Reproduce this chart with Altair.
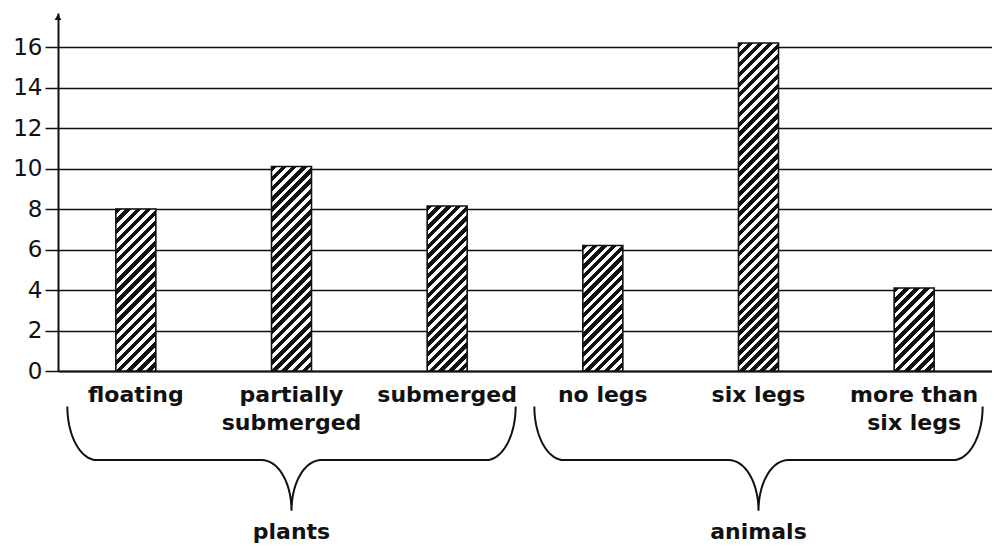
import math
import altair as alt
import pandas as pd

# ---------------- data ----------------
categories = ["floating", "partially\nsubmerged", "submerged",
              "no legs", "six legs", "more than\nsix legs"]
counts = [8.0, 10.1, 8.15, 6.2, 16.2, 4.1]
groups = ["plants", "animals"]
group_first = [0, 3]   # index of first category of each group
group_last = [2, 5]    # index of last category of each group
y_ticks = [0, 2, 4, 6, 8, 10, 12, 14, 16]

# ---------------- layout / style constants ----------------
W, H = 934, 358
Y_MAX = 17.68
BAR_W = 40
PX_PER_UNIT = H / Y_MAX
FONT = "DejaVu Sans"
INK = "#111111"
STRIPE_PERIOD = 10.0

# brace geometry (in x band units / y value units)
BRACE_INSET = 0.06
BRACE_TOP = -1.75
BRACE_MID = -4.4
BRACE_BOT = -6.9
BRACE_RX = 0.19
LABEL_Y = -7.95

df = pd.DataFrame({"idx": list(range(len(categories))),
                   "category": categories, "count": counts})


def hatch(value):
    """Diagonal '/' stripes as a linear gradient in the bar's bounding box."""
    h = value * PX_PER_UNIT
    w = BAR_W
    k = (w + h) / (w * w + h * h)
    n = max(1, round((w + h) / STRIPE_PERIOD))
    stops = []
    for j in range(n):
        t0 = j / n
        t1 = (j + 0.55) / n
        t2 = (j + 1) / n
        stops += [alt.GradientStop(color=INK, offset=t0),
                  alt.GradientStop(color=INK, offset=t1),
                  alt.GradientStop(color="#ffffff", offset=t1),
                  alt.GradientStop(color="#ffffff", offset=t2)]
    return alt.LinearGradient(gradient="linear", stops=stops,
                              x1=0, y1=0, x2=w * k, y2=h * k)


x_scale = alt.Scale(domain=categories, paddingInner=0, paddingOuter=0)
y_scale = alt.Scale(domain=[0, Y_MAX], nice=False, zero=False)

x_axis = alt.Axis(title=None, ticks=False, tickSize=0, labelPadding=13,
                  labelFont=FONT, labelFontSize=22, labelFontWeight="bold",
                  labelColor=INK, labelAngle=0, labelLineHeight=28,
                  labelExpr="split(datum.label, '\\n')",
                  domainColor=INK, domainWidth=2, grid=False,
                  labelOverlap=False, labelLimit=300)
y_axis = alt.Axis(title=None, values=y_ticks, tickSize=13, tickColor=INK,
                  tickWidth=1.5, labelPadding=3, labelFont=FONT,
                  labelFontSize=23, labelColor=INK, domainColor=INK,
                  domainWidth=2, grid=True, gridColor=INK, gridWidth=1.4,
                  gridOpacity=1)

bar_layers = []
for i, v in enumerate(counts):
    bar_layers.append(
        alt.Chart(df)
        .transform_filter(alt.datum.idx == i)
        .mark_bar(size=BAR_W, fill=hatch(v), stroke=INK, strokeWidth=1.6)
        .encode(x=alt.X("category:N", sort=categories, scale=x_scale, axis=x_axis),
                y=alt.Y("count:Q", scale=y_scale, axis=y_axis))
    )

arrow = (
    alt.Chart(pd.DataFrame({"category": [categories[0]], "top": [Y_MAX]}))
    .mark_point(shape="triangle-up", filled=True, size=45, color=INK,
                opacity=1, yOffset=4)
    .encode(x=alt.value(0),
            y=alt.Y("top:Q", scale=y_scale, axis=y_axis))
)

bars = alt.layer(*bar_layers, arrow)

# ---------------- braces ----------------
rows = []
N = 18
for g, f, l in zip(groups, group_first, group_last):
    x0 = f + BRACE_INSET
    x1 = l + 1 - BRACE_INSET
    xm = (x0 + x1) / 2
    half = []
    for i in range(N + 1):
        t = i / N * math.pi / 2
        half.append((x0 + BRACE_RX - BRACE_RX * math.cos(t),
                     BRACE_TOP - (BRACE_TOP - BRACE_MID) * math.sin(t)))
    for i in range(N + 1):
        t = i / N * math.pi / 2
        half.append((xm - BRACE_RX + BRACE_RX * math.sin(t),
                     BRACE_BOT + (BRACE_MID - BRACE_BOT) * math.cos(t)))
    full = half + [(2 * xm - x, y) for (x, y) in reversed(half[:-1])]
    for o, (x, y) in enumerate(full):
        rows.append({"group": g, "o": o, "bx": x, "by": y})
brace_df = pd.DataFrame(rows)

bx_scale = alt.Scale(domain=[0, len(categories)], nice=False, zero=False)

braces = (
    alt.Chart(brace_df)
    .mark_line(color=INK, strokeWidth=2)
    .encode(x=alt.X("bx:Q", scale=bx_scale, axis=None),
            y=alt.Y("by:Q", scale=y_scale, axis=None),
            detail="group:N", order="o:Q")
)

label_df = pd.DataFrame({
    "group": groups,
    "cx": [(f + l + 1) / 2 for f, l in zip(group_first, group_last)],
    "ly": [LABEL_Y] * len(groups),
})
group_labels = (
    alt.Chart(label_df)
    .mark_text(font=FONT, fontSize=22, fontWeight="bold", color=INK)
    .encode(x=alt.X("cx:Q", scale=bx_scale, axis=None),
            y=alt.Y("ly:Q", scale=y_scale, axis=None),
            text="group:N")
)

chart = (
    alt.layer(bars, braces, group_labels)
    .resolve_scale(x="independent", y="independent")
    .properties(width=W, height=H, autosize="none",
                padding={"left": 50, "top": 5, "right": 0, "bottom": 173},
                background="white")
    .configure_view(stroke=None)
)

chart.save("out.html", embed_options={"renderer": "svg", "actions": False})
